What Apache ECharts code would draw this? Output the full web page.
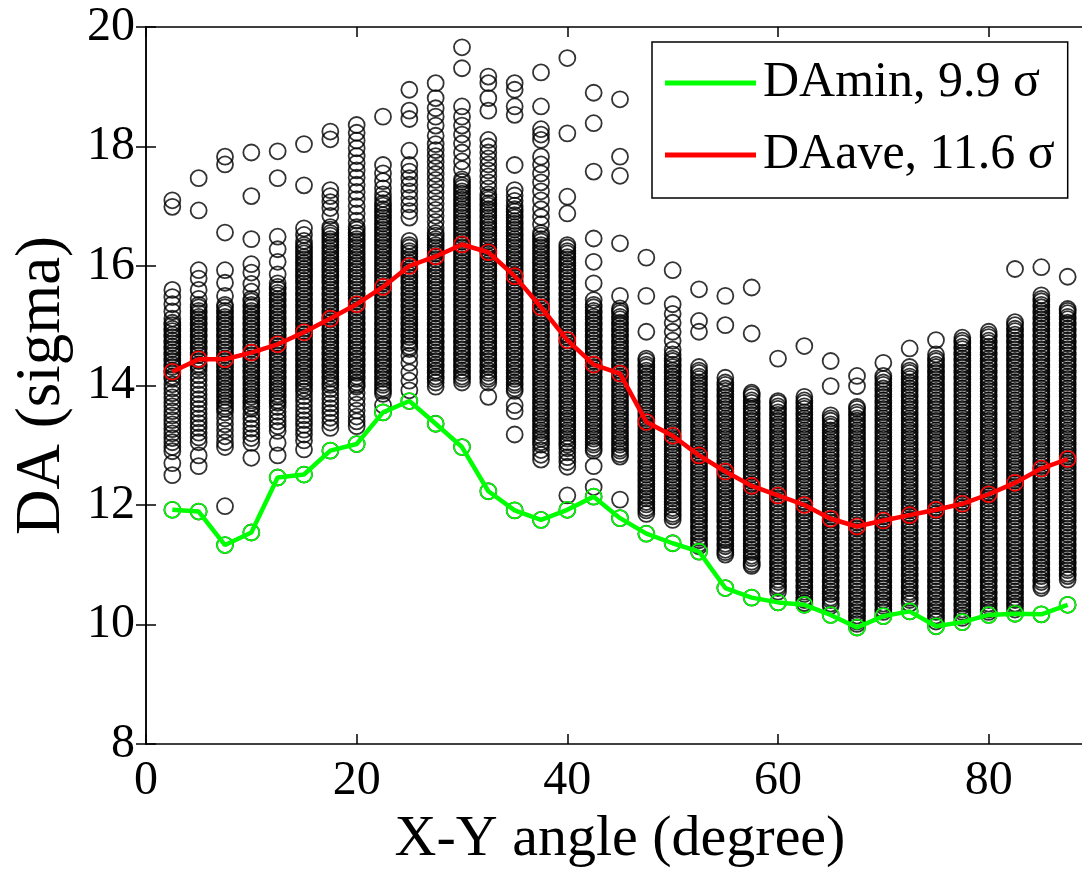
<!DOCTYPE html>
<html>
<head>
<meta charset="utf-8">
<script src="https://cdn.jsdelivr.net/npm/echarts@6/dist/echarts.min.js"></script>
<style>
html,body{margin:0;padding:0;background:#fff;}
#chart{width:1082px;height:869px;}
</style>
</head>
<body>
<div id="chart"></div>
<script>
// X-Y angle columns (degree)
var angles = [2.5,5,7.5,10,12.5,15,17.5,20,22.5,25,27.5,30,32.5,35,37.5,40,42.5,45,47.5,50,52.5,55,57.5,60,62.5,65,67.5,70,72.5,75,77.5,80,82.5,85,87.5];
// minimum DA per angle (sigma)
var daMin = [11.92,11.89,11.33,11.54,12.46,12.51,12.91,13.02,13.55,13.74,13.36,12.97,12.23,11.91,11.75,11.92,12.14,11.78,11.52,11.36,11.22,10.61,10.45,10.37,10.33,10.16,9.95,10.14,10.22,9.97,10.04,10.16,10.18,10.17,10.33];
// average DA per angle (sigma)
var daAve = [14.23,14.44,14.44,14.55,14.69,14.89,15.12,15.36,15.65,16.0,16.16,16.36,16.23,15.83,15.31,14.76,14.35,14.2,13.39,13.16,12.83,12.56,12.32,12.16,12.0,11.77,11.64,11.74,11.83,11.92,12.02,12.18,12.37,12.61,12.77];
// individual seed DA values, one row per angle
var daSamples = [
[17.1,16.99,15.6,15.48,15.36,15.24,15.12,15.05,15.01,14.95,14.91,14.85,14.81,14.75,14.71,14.65,14.61,14.55,14.51,14.45,14.41,14.35,14.31,14.25,14.21,14.15,14.11,14.02,13.95,13.87,13.8,13.72,13.65,13.57,13.5,13.42,13.35,13.27,13.2,13.12,13.05,12.97,12.9,12.7,12.5,11.92],
[17.47,16.93,15.93,15.79,15.6,15.45,15.35,15.31,15.25,15.21,15.15,15.11,15.05,15.01,14.95,14.91,14.85,14.81,14.75,14.71,14.65,14.61,14.55,14.51,14.45,14.41,14.35,14.31,14.25,14.17,14.09,14.01,13.93,13.85,13.77,13.69,13.61,13.53,13.45,13.37,13.29,13.21,13.13,13.05,12.83,12.65,11.89],
[17.83,17.7,16.56,15.93,15.72,15.5,15.35,15.31,15.25,15.21,15.15,15.11,15.05,15.01,14.95,14.91,14.85,14.81,14.75,14.71,14.65,14.61,14.55,14.51,14.45,14.41,14.35,14.31,14.25,14.21,14.15,14.11,14.05,14.01,13.95,13.91,13.85,13.81,13.75,13.71,13.65,13.61,13.55,13.45,13.35,13.25,13.15,13.05,12.97,11.98,11.33],
[17.9,17.17,16.45,16.03,15.89,15.7,15.57,15.45,15.41,15.35,15.31,15.25,15.21,15.15,15.11,15.05,15.01,14.95,14.91,14.85,14.81,14.75,14.71,14.65,14.61,14.55,14.51,14.45,14.41,14.35,14.31,14.25,14.21,14.15,14.11,14.05,14.01,13.95,13.91,13.85,13.81,13.75,13.71,13.65,13.61,13.52,13.44,13.36,13.28,13.2,13.12,13.04,12.79,11.54],
[17.92,17.47,16.49,16.28,16.07,15.86,15.71,15.65,15.61,15.55,15.51,15.45,15.41,15.35,15.31,15.25,15.21,15.15,15.11,15.05,15.01,14.95,14.91,14.85,14.81,14.75,14.71,14.65,14.61,14.55,14.51,14.45,14.41,14.35,14.31,14.25,14.21,14.15,14.11,14.05,14.01,13.95,13.91,13.85,13.81,13.75,13.71,13.64,13.56,13.48,13.4,13.32,13.24,13.04,12.83,12.46],
[18.04,17.35,16.63,16.52,16.42,16.35,16.31,16.25,16.21,16.15,16.11,16.05,16.01,15.95,15.91,15.85,15.81,15.75,15.71,15.65,15.61,15.55,15.51,15.45,15.41,15.35,15.31,15.25,15.21,15.15,15.11,15.05,15.01,14.95,14.91,14.85,14.81,14.75,14.71,14.65,14.61,14.55,14.51,14.45,14.41,14.35,14.31,14.25,14.21,14.15,14.11,14.05,14.01,13.95,13.9,13.82,13.74,13.66,13.58,13.5,13.42,13.34,13.26,13.18,13.08,12.93,12.51],
[18.25,18.12,17.27,17.17,17.07,16.97,16.84,16.65,16.61,16.55,16.51,16.45,16.41,16.35,16.31,16.25,16.21,16.15,16.11,16.05,16.01,15.95,15.91,15.85,15.81,15.75,15.71,15.65,15.61,15.55,15.51,15.45,15.41,15.35,15.31,15.25,15.21,15.15,15.11,15.05,15.01,14.95,14.91,14.85,14.81,14.75,14.71,14.65,14.61,14.55,14.51,14.45,14.41,14.35,14.31,14.25,14.21,14.15,14.11,14.05,14.01,13.94,13.86,13.78,13.7,13.62,13.54,13.46,13.38,13.29,12.91],
[18.36,18.23,18.1,17.97,17.84,17.72,17.6,17.48,17.36,17.24,17.12,17.0,16.88,16.76,16.65,16.61,16.55,16.51,16.45,16.41,16.35,16.31,16.25,16.21,16.15,16.11,16.05,16.01,15.95,15.91,15.85,15.81,15.75,15.71,15.65,15.61,15.55,15.51,15.45,15.41,15.35,15.31,15.25,15.21,15.15,15.11,15.05,15.01,14.95,14.91,14.85,14.81,14.75,14.71,14.65,14.61,14.55,14.51,14.45,14.41,14.35,14.31,14.25,14.21,14.15,14.11,14.05,14.01,13.98,13.88,13.78,13.68,13.58,13.48,13.4,13.32,13.02],
[18.5,17.69,17.55,17.42,17.3,17.2,17.12,17.05,17.01,16.95,16.91,16.85,16.81,16.75,16.71,16.65,16.61,16.55,16.51,16.45,16.41,16.35,16.31,16.25,16.21,16.15,16.11,16.05,16.01,15.95,15.91,15.85,15.81,15.75,15.71,15.65,15.61,15.55,15.51,15.45,15.41,15.35,15.31,15.25,15.21,15.15,15.11,15.05,15.01,14.95,14.91,14.85,14.81,14.75,14.71,14.65,14.61,14.55,14.51,14.45,14.41,14.35,14.31,14.25,14.21,14.15,14.11,14.05,14.01,13.95,13.91,13.86,13.67,13.55],
[18.95,18.6,18.46,17.93,17.69,17.58,17.47,17.36,17.25,17.14,17.03,16.92,16.81,16.42,16.35,16.31,16.25,16.21,16.15,16.11,16.05,16.01,15.95,15.91,15.85,15.81,15.75,15.71,15.65,15.61,15.55,15.51,15.45,15.41,15.35,15.31,15.25,15.21,15.15,15.11,15.05,15.01,14.95,14.91,14.85,14.81,14.75,14.71,14.65,14.61,14.5,14.38,14.22,14.08,13.92,13.74],
[19.06,18.81,18.64,18.5,18.35,18.18,18.04,17.94,17.84,17.74,17.64,17.54,17.44,17.34,17.24,17.14,17.04,16.94,16.84,16.74,16.64,16.55,16.51,16.45,16.41,16.35,16.31,16.25,16.21,16.15,16.11,16.05,16.01,15.95,15.91,15.85,15.81,15.75,15.71,15.65,15.61,15.55,15.51,15.45,15.41,15.35,15.31,15.25,15.21,15.15,15.11,15.05,15.01,14.95,14.91,14.85,14.81,14.75,14.71,14.65,14.61,14.55,14.51,14.45,14.41,14.35,14.31,14.25,14.21,14.15,14.11,14.05,13.98,13.36],
[19.66,19.31,18.67,18.5,18.35,18.2,18.05,17.9,17.75,17.62,17.45,17.41,17.35,17.31,17.25,17.21,17.15,17.11,17.05,17.01,16.95,16.91,16.85,16.81,16.75,16.71,16.65,16.61,16.55,16.51,16.45,16.41,16.35,16.31,16.25,16.21,16.15,16.11,16.05,16.01,15.95,15.91,15.85,15.81,15.75,15.71,15.65,15.61,15.55,15.51,15.45,15.41,15.35,15.31,15.25,15.21,15.15,15.11,15.05,15.01,14.95,14.91,14.85,14.81,14.75,14.71,14.65,14.61,14.55,14.51,14.45,14.41,14.35,14.31,14.25,14.21,14.15,14.11,14.05,12.97],
[19.17,19.06,18.81,18.6,18.11,18.0,17.9,17.8,17.7,17.6,17.5,17.4,17.3,17.2,17.15,17.11,17.05,17.01,16.95,16.91,16.85,16.81,16.75,16.71,16.65,16.61,16.55,16.51,16.45,16.41,16.35,16.31,16.25,16.21,16.15,16.11,16.05,16.01,15.95,15.91,15.85,15.81,15.75,15.71,15.65,15.61,15.55,15.51,15.45,15.41,15.35,15.31,15.25,15.21,15.15,15.11,15.05,15.01,14.95,14.91,14.85,14.81,14.75,14.71,14.65,14.61,14.55,14.51,14.45,14.41,14.35,14.31,14.25,14.21,14.15,14.11,14.05,13.81,12.23],
[19.06,18.95,18.67,18.53,17.69,17.27,17.18,17.09,17.01,16.95,16.91,16.85,16.81,16.75,16.71,16.65,16.61,16.55,16.51,16.45,16.41,16.35,16.31,16.25,16.21,16.15,16.11,16.05,16.01,15.95,15.91,15.85,15.81,15.75,15.71,15.65,15.61,15.55,15.51,15.45,15.41,15.35,15.31,15.25,15.21,15.15,15.11,15.05,15.01,14.95,14.91,14.85,14.81,14.75,14.71,14.65,14.61,14.55,14.51,14.45,14.41,14.35,14.31,14.25,14.21,14.15,14.11,14.05,14.01,13.95,13.91,13.67,13.57,13.18,11.91],
[19.24,18.67,18.29,18.2,18.11,17.83,17.7,17.55,17.4,17.25,17.1,16.95,16.82,16.7,16.55,16.51,16.45,16.41,16.35,16.31,16.25,16.21,16.15,16.11,16.05,16.01,15.95,15.91,15.85,15.81,15.75,15.71,15.65,15.61,15.55,15.51,15.45,15.41,15.35,15.31,15.25,15.21,15.15,15.11,15.05,15.01,14.95,14.91,14.85,14.81,14.75,14.71,14.65,14.61,14.55,14.51,14.45,14.41,14.35,14.31,14.25,14.21,14.15,14.11,14.05,14.01,13.95,13.91,13.85,13.81,13.75,13.71,13.65,13.61,13.55,13.51,13.45,13.41,13.35,13.31,13.25,13.21,13.15,13.11,13.05,13.01,12.92,12.84,12.76,11.75],
[19.48,18.22,17.16,16.88,16.35,16.31,16.25,16.21,16.15,16.11,16.05,16.01,15.95,15.91,15.85,15.81,15.75,15.71,15.65,15.61,15.55,15.51,15.45,15.41,15.35,15.31,15.25,15.21,15.15,15.11,15.05,15.01,14.95,14.91,14.85,14.81,14.75,14.71,14.65,14.61,14.55,14.51,14.45,14.41,14.35,14.31,14.25,14.21,14.15,14.11,14.05,14.01,13.95,13.91,13.85,13.81,13.75,13.71,13.65,13.61,13.55,13.51,13.45,13.41,13.35,13.31,13.25,13.21,13.15,13.11,13.05,13.01,12.95,12.88,12.8,12.72,12.64,12.16,11.92],
[18.9,18.39,17.58,16.46,16.07,15.71,15.43,15.35,15.31,15.25,15.21,15.15,15.11,15.05,15.01,14.95,14.91,14.85,14.81,14.75,14.71,14.65,14.61,14.55,14.51,14.45,14.41,14.35,14.31,14.25,14.21,14.15,14.11,14.05,14.01,13.95,13.91,13.85,13.81,13.75,13.71,13.65,13.61,13.55,13.51,13.45,13.41,13.35,13.31,13.25,13.21,13.15,13.11,13.05,13.01,12.95,12.91,12.65,12.3,12.14],
[18.79,17.83,17.51,16.38,15.5,15.29,15.25,15.21,15.15,15.11,15.05,15.01,14.95,14.91,14.85,14.81,14.75,14.71,14.65,14.61,14.55,14.51,14.45,14.41,14.35,14.31,14.25,14.21,14.15,14.11,14.05,14.01,13.95,13.91,13.85,13.81,13.75,13.71,13.65,13.61,13.55,13.51,13.45,13.41,13.35,13.31,13.25,13.21,13.15,13.11,13.05,13.01,12.95,12.91,12.85,12.81,12.09,11.78],
[16.14,15.5,14.9,14.45,14.41,14.35,14.31,14.25,14.21,14.15,14.11,14.05,14.01,13.95,13.91,13.85,13.81,13.75,13.71,13.65,13.61,13.55,13.51,13.45,13.41,13.35,13.31,13.25,13.21,13.15,13.11,13.05,13.01,12.95,12.91,12.85,12.81,12.75,12.71,12.65,12.61,12.55,12.51,12.45,12.41,12.35,12.31,12.25,12.21,12.15,12.11,12.05,12.01,11.95,11.91,11.85,11.52],
[15.93,15.36,15.2,15.05,14.9,14.75,14.6,14.52,14.45,14.41,14.35,14.31,14.25,14.21,14.15,14.11,14.05,14.01,13.95,13.91,13.85,13.81,13.75,13.71,13.65,13.61,13.55,13.51,13.45,13.41,13.35,13.31,13.25,13.21,13.15,13.11,13.05,13.01,12.95,12.91,12.85,12.81,12.75,12.71,12.65,12.61,12.55,12.51,12.45,12.41,12.35,12.31,12.25,12.21,12.15,12.11,12.05,12.01,11.95,11.91,11.85,11.81,11.75,11.36],
[15.61,15.08,14.9,14.31,14.25,14.21,14.15,14.11,14.05,14.01,13.95,13.91,13.85,13.81,13.75,13.71,13.65,13.61,13.55,13.51,13.45,13.41,13.35,13.31,13.25,13.21,13.15,13.11,13.05,13.01,12.95,12.91,12.85,12.81,12.75,12.71,12.65,12.61,12.55,12.51,12.45,12.41,12.35,12.31,12.25,12.21,12.15,12.11,12.05,12.01,11.95,11.91,11.85,11.81,11.75,11.71,11.65,11.61,11.55,11.51,11.45,11.41,11.35,11.31,11.22],
[15.5,15.01,14.13,14.05,14.01,13.95,13.91,13.85,13.81,13.75,13.71,13.65,13.61,13.55,13.51,13.45,13.41,13.35,13.31,13.25,13.21,13.15,13.11,13.05,13.01,12.95,12.91,12.85,12.81,12.75,12.71,12.65,12.61,12.55,12.51,12.45,12.41,12.35,12.31,12.25,12.21,12.15,12.11,12.05,12.01,11.95,11.91,11.85,11.81,11.75,11.71,11.65,11.61,11.55,11.51,11.45,11.41,11.35,11.31,11.25,11.21,11.17,10.61],
[15.64,14.87,13.88,13.85,13.81,13.75,13.71,13.65,13.61,13.55,13.51,13.45,13.41,13.35,13.31,13.25,13.21,13.15,13.11,13.05,13.01,12.95,12.91,12.85,12.81,12.75,12.71,12.65,12.61,12.55,12.51,12.45,12.41,12.35,12.31,12.25,12.21,12.15,12.11,12.05,12.01,11.95,11.91,11.85,11.81,11.75,11.71,11.65,11.61,11.55,11.51,11.45,11.41,11.35,11.31,11.25,11.21,11.15,11.11,11.05,11.01,10.98,10.45],
[14.45,13.74,13.71,13.65,13.61,13.55,13.51,13.45,13.41,13.35,13.31,13.25,13.21,13.15,13.11,13.05,13.01,12.95,12.91,12.85,12.81,12.75,12.71,12.65,12.61,12.55,12.51,12.45,12.41,12.35,12.31,12.25,12.21,12.15,12.11,12.05,12.01,11.95,11.91,11.85,11.81,11.75,11.71,11.65,11.61,11.55,11.51,11.45,11.41,11.35,11.31,11.25,11.21,11.15,11.11,11.05,11.01,10.95,10.91,10.85,10.81,10.75,10.71,10.65,10.61,10.55,10.37],
[14.66,13.81,13.75,13.71,13.65,13.61,13.55,13.51,13.45,13.41,13.35,13.31,13.25,13.21,13.15,13.11,13.05,13.01,12.95,12.91,12.85,12.81,12.75,12.71,12.65,12.61,12.55,12.51,12.45,12.41,12.35,12.31,12.25,12.21,12.15,12.11,12.05,12.01,11.95,11.91,11.85,11.81,11.75,11.71,11.65,11.61,11.55,11.51,11.45,11.41,11.35,11.31,11.25,11.21,11.15,11.11,11.05,11.01,10.95,10.91,10.85,10.81,10.75,10.71,10.65,10.61,10.55,10.51,10.45,10.41,10.36,10.33],
[14.41,13.99,13.5,13.45,13.41,13.35,13.31,13.25,13.21,13.15,13.11,13.05,13.01,12.95,12.91,12.85,12.81,12.75,12.71,12.65,12.61,12.55,12.51,12.45,12.41,12.35,12.31,12.25,12.21,12.15,12.11,12.05,12.01,11.95,11.91,11.85,11.81,11.75,11.71,11.65,11.61,11.55,11.51,11.45,11.41,11.35,11.31,11.25,11.21,11.15,11.11,11.05,11.01,10.95,10.91,10.85,10.81,10.75,10.71,10.65,10.61,10.55,10.51,10.45,10.41,10.35,10.31,10.16],
[14.16,13.99,13.64,13.61,13.55,13.51,13.45,13.41,13.35,13.31,13.25,13.21,13.15,13.11,13.05,13.01,12.95,12.91,12.85,12.81,12.75,12.71,12.65,12.61,12.55,12.51,12.45,12.41,12.35,12.31,12.25,12.21,12.15,12.11,12.05,12.01,11.95,11.91,11.85,11.81,11.75,11.71,11.65,11.61,11.55,11.51,11.45,11.41,11.35,11.31,11.25,11.21,11.15,11.11,11.05,11.01,10.95,10.91,10.85,10.81,10.75,10.71,10.65,10.61,10.55,10.51,10.45,10.41,10.35,10.31,10.25,10.21,10.15,10.11,10.05,10.01,9.95],
[14.38,14.16,14.11,14.05,14.01,13.95,13.91,13.85,13.81,13.75,13.71,13.65,13.61,13.55,13.51,13.45,13.41,13.35,13.31,13.25,13.21,13.15,13.11,13.05,13.01,12.95,12.91,12.85,12.81,12.75,12.71,12.65,12.61,12.55,12.51,12.45,12.41,12.35,12.31,12.25,12.21,12.15,12.11,12.05,12.01,11.95,11.91,11.85,11.81,11.75,11.71,11.65,11.61,11.55,11.51,11.45,11.41,11.35,11.31,11.25,11.21,11.15,11.11,11.05,11.01,10.95,10.91,10.85,10.81,10.75,10.71,10.65,10.61,10.55,10.51,10.45,10.41,10.35,10.31,10.25,10.21,10.14],
[14.62,14.31,14.25,14.21,14.15,14.11,14.05,14.01,13.95,13.91,13.85,13.81,13.75,13.71,13.65,13.61,13.55,13.51,13.45,13.41,13.35,13.31,13.25,13.21,13.15,13.11,13.05,13.01,12.95,12.91,12.85,12.81,12.75,12.71,12.65,12.61,12.55,12.51,12.45,12.41,12.35,12.31,12.25,12.21,12.15,12.11,12.05,12.01,11.95,11.91,11.85,11.81,11.75,11.71,11.65,11.61,11.55,11.51,11.45,11.41,11.35,11.31,11.25,11.21,11.15,11.11,11.05,11.01,10.95,10.91,10.85,10.81,10.75,10.71,10.65,10.61,10.55,10.51,10.45,10.41,10.35,10.22],
[14.76,14.52,14.45,14.41,14.35,14.31,14.25,14.21,14.15,14.11,14.05,14.01,13.95,13.91,13.85,13.81,13.75,13.71,13.65,13.61,13.55,13.51,13.45,13.41,13.35,13.31,13.25,13.21,13.15,13.11,13.05,13.01,12.95,12.91,12.85,12.81,12.75,12.71,12.65,12.61,12.55,12.51,12.45,12.41,12.35,12.31,12.25,12.21,12.15,12.11,12.05,12.01,11.95,11.91,11.85,11.81,11.75,11.71,11.65,11.61,11.55,11.51,11.45,11.41,11.35,11.31,11.25,11.21,11.15,11.11,11.05,11.01,10.95,10.91,10.85,10.81,10.75,10.71,10.65,10.61,10.55,10.51,10.45,10.41,10.35,10.31,10.25,10.21,10.15,10.11,10.05,9.97],
[14.8,14.75,14.71,14.65,14.61,14.55,14.51,14.45,14.41,14.35,14.31,14.25,14.21,14.15,14.11,14.05,14.01,13.95,13.91,13.85,13.81,13.75,13.71,13.65,13.61,13.55,13.51,13.45,13.41,13.35,13.31,13.25,13.21,13.15,13.11,13.05,13.01,12.95,12.91,12.85,12.81,12.75,12.71,12.65,12.61,12.55,12.51,12.45,12.41,12.35,12.31,12.25,12.21,12.15,12.11,12.05,12.01,11.95,11.91,11.85,11.81,11.75,11.71,11.65,11.61,11.55,11.51,11.45,11.41,11.35,11.31,11.25,11.21,11.15,11.11,11.05,11.01,10.95,10.91,10.85,10.81,10.75,10.71,10.65,10.61,10.55,10.51,10.45,10.41,10.35,10.31,10.25,10.21,10.15,10.11,10.04],
[14.9,14.85,14.81,14.75,14.71,14.65,14.61,14.55,14.51,14.45,14.41,14.35,14.31,14.25,14.21,14.15,14.11,14.05,14.01,13.95,13.91,13.85,13.81,13.75,13.71,13.65,13.61,13.55,13.51,13.45,13.41,13.35,13.31,13.25,13.21,13.15,13.11,13.05,13.01,12.95,12.91,12.85,12.81,12.75,12.71,12.65,12.61,12.55,12.51,12.45,12.41,12.35,12.31,12.25,12.21,12.15,12.11,12.05,12.01,11.95,11.91,11.85,11.81,11.75,11.71,11.65,11.61,11.55,11.51,11.45,11.41,11.35,11.31,11.25,11.21,11.15,11.11,11.05,11.01,10.95,10.91,10.85,10.81,10.75,10.71,10.65,10.61,10.55,10.51,10.45,10.41,10.35,10.31,10.25,10.21,10.16],
[15.95,15.06,15.01,14.95,14.91,14.85,14.81,14.75,14.71,14.65,14.61,14.55,14.51,14.45,14.41,14.35,14.31,14.25,14.21,14.15,14.11,14.05,14.01,13.95,13.91,13.85,13.81,13.75,13.71,13.65,13.61,13.55,13.51,13.45,13.41,13.35,13.31,13.25,13.21,13.15,13.11,13.05,13.01,12.95,12.91,12.85,12.81,12.75,12.71,12.65,12.61,12.55,12.51,12.45,12.41,12.35,12.31,12.25,12.21,12.15,12.11,12.05,12.01,11.95,11.91,11.85,11.81,11.75,11.71,11.65,11.61,11.55,11.51,11.45,11.41,11.35,11.31,11.25,11.21,11.15,11.11,11.05,11.01,10.95,10.91,10.85,10.81,10.75,10.71,10.65,10.61,10.55,10.51,10.45,10.41,10.35,10.31,10.25,10.18],
[15.98,15.51,15.45,15.41,15.35,15.31,15.25,15.21,15.15,15.11,15.05,15.01,14.95,14.91,14.85,14.81,14.75,14.71,14.65,14.61,14.55,14.51,14.45,14.41,14.35,14.31,14.25,14.21,14.15,14.11,14.05,14.01,13.95,13.91,13.85,13.81,13.75,13.71,13.65,13.61,13.55,13.51,13.45,13.41,13.35,13.31,13.25,13.21,13.15,13.11,13.05,13.01,12.95,12.91,12.85,12.81,12.75,12.71,12.65,12.61,12.55,12.51,12.45,12.41,12.35,12.31,12.25,12.21,12.15,12.11,12.05,12.01,11.95,11.91,11.85,11.81,11.75,11.71,11.65,11.61,11.55,11.51,11.45,11.41,11.35,11.31,11.25,11.21,11.15,11.11,11.05,11.01,10.95,10.91,10.85,10.81,10.75,10.71,10.65,10.61,10.17],
[15.82,15.28,15.25,15.21,15.15,15.11,15.05,15.01,14.95,14.91,14.85,14.81,14.75,14.71,14.65,14.61,14.55,14.51,14.45,14.41,14.35,14.31,14.25,14.21,14.15,14.11,14.05,14.01,13.95,13.91,13.85,13.81,13.75,13.71,13.65,13.61,13.55,13.51,13.45,13.41,13.35,13.31,13.25,13.21,13.15,13.11,13.05,13.01,12.95,12.91,12.85,12.81,12.75,12.71,12.65,12.61,12.55,12.51,12.45,12.41,12.35,12.31,12.25,12.21,12.15,12.11,12.05,12.01,11.95,11.91,11.85,11.81,11.75,11.71,11.65,11.61,11.55,11.51,11.45,11.41,11.35,11.31,11.25,11.21,11.15,11.11,11.05,11.01,10.95,10.91,10.85,10.81,10.75,10.33]
];
var xTicks = [0, 20, 40, 60, 80];
var yTicks = [8, 10, 12, 14, 16, 18, 20];
var minName = 'DAmin, 9.9 \u03c3';
var aveName = 'DAave, 11.6 \u03c3';

var scatterData = [];
angles.forEach(function (a, i) {
  daSamples[i].forEach(function (v) { scatterData.push([a, v]); });
});
var minData = angles.map(function (a, i) { return [a, daMin[i]]; });
var aveData = angles.map(function (a, i) { return [a, daAve[i]]; });

var FONT = '"Liberation Serif", "Times New Roman", serif';
var chart = echarts.init(document.getElementById('chart'), null, {renderer: 'canvas'});
var axisLineStyle = {color: '#000', width: 1.5};
chart.setOption({
  animation: false,
  backgroundColor: '#fff',
  grid: {left: 146, top: 27, width: 948, height: 717, containLabel: false, outerBoundsMode: 'none'},
  xAxis: [{
    type: 'value', min: 0, max: 90, interval: 20, position: 'bottom',
    name: 'X-Y angle (degree)', nameLocation: 'middle', nameGap: 67,
    nameTextStyle: {fontFamily: FONT, fontSize: 58, color: '#000'},
    axisLine: {show: true, lineStyle: axisLineStyle},
    axisTick: {show: true, inside: true, length: 10, lineStyle: axisLineStyle},
    axisLabel: {fontFamily: FONT, fontSize: 48, color: '#000', margin: 13, showMaxLabel: false,
      formatter: function (v) { return xTicks.indexOf(v) >= 0 ? String(v) : ''; }},
    splitLine: {show: false}
  }, {
    type: 'value', min: 0, max: 90, interval: 20, position: 'top',
    axisLine: {show: true, lineStyle: axisLineStyle},
    axisTick: {show: true, inside: true, length: 10, lineStyle: axisLineStyle},
    axisLabel: {show: false}, splitLine: {show: false}
  }],
  yAxis: [{
    type: 'value', min: 8, max: 20, interval: 2, position: 'left',
    name: 'DA (sigma)', nameLocation: 'middle', nameGap: 72, nameRotate: 90,
    nameTextStyle: {fontFamily: FONT, fontSize: 63, color: '#000'},
    axisLine: {show: true, lineStyle: axisLineStyle},
    axisTick: {show: true, inside: true, length: 10, lineStyle: axisLineStyle},
    axisLabel: {fontFamily: FONT, fontSize: 48, color: '#000', margin: 11,
      formatter: function (v) { return yTicks.indexOf(v) >= 0 ? String(v) : ''; }},
    splitLine: {show: false}
  }, {
    type: 'value', min: 8, max: 20, interval: 2, position: 'right',
    axisLine: {show: true, lineStyle: axisLineStyle},
    axisTick: {show: true, inside: true, length: 10, lineStyle: axisLineStyle},
    axisLabel: {show: false}, splitLine: {show: false}
  }],
  legend: {
    orient: 'vertical', left: 652, top: 42,
    padding: [16, 13, 18, 13],
    itemGap: 22, itemWidth: 91, itemHeight: 5,
    icon: 'rect',
    borderColor: '#000', borderWidth: 1.5, backgroundColor: '#fff',
    textStyle: {fontFamily: FONT, fontSize: 50, color: '#000', padding: [0, 0, 0, 2], width: 330, overflow: 'none'},
    data: [
      {name: minName, itemStyle: {color: '#00ff00', borderWidth: 0}},
      {name: aveName, itemStyle: {color: '#ff0000', borderWidth: 0}}
    ]
  },
  series: [{
    name: 'samples', type: 'scatter', data: scatterData,
    symbol: 'circle', symbolSize: 16, silent: true, large: false,
    itemStyle: {color: 'rgba(0,0,0,0)', borderColor: '#000', borderWidth: 1.8},
    z: 2
  }, {
    name: minName, type: 'line', data: minData,
    symbol: 'circle', symbolSize: 16, showAllSymbol: true,
    lineStyle: {color: '#00ff00', width: 4.5},
    itemStyle: {color: 'rgba(0,0,0,0)', borderColor: '#00ff00', borderWidth: 1.6},
    z: 3
  }, {
    name: aveName, type: 'line', data: aveData,
    symbol: 'circle', symbolSize: 16, showAllSymbol: true,
    lineStyle: {color: '#ff0000', width: 4.5},
    itemStyle: {color: 'rgba(0,0,0,0)', borderColor: '#ff0000', borderWidth: 1.6},
    z: 4
  }]
});
</script>
</body>
</html>
